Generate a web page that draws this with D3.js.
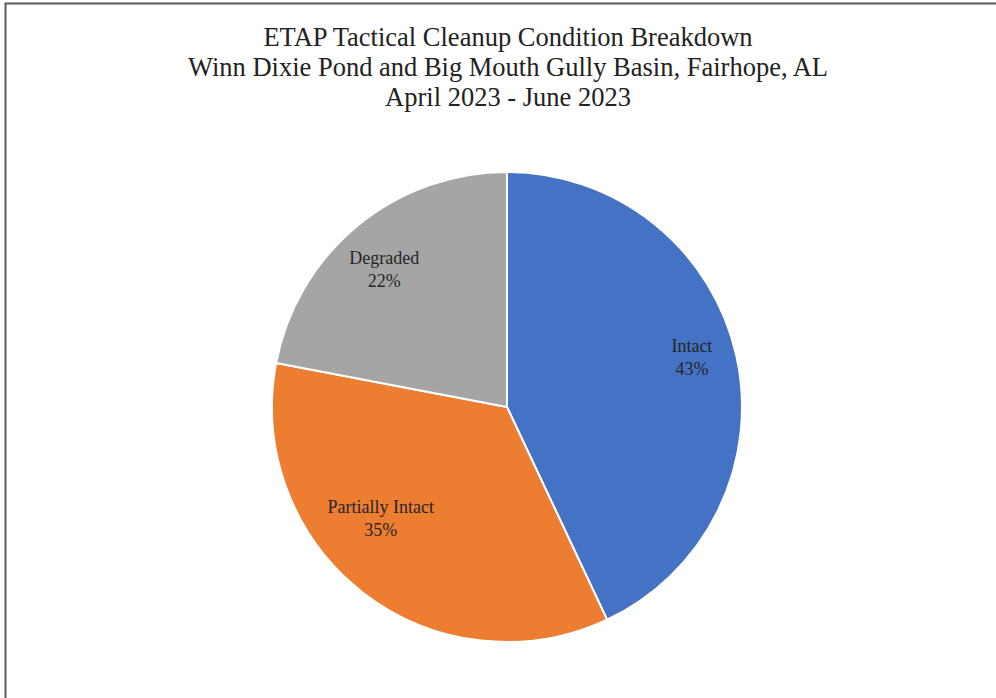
<!DOCTYPE html>
<html>
<head>
<meta charset="utf-8">
<script src="https://cdn.jsdelivr.net/npm/d3@7"></script>
<style>
  html, body { margin: 0; padding: 0; background: #fff; }
  svg { display: block; }
</style>
</head>
<body>
<svg id="chart" width="996" height="698"></svg>
<script>
const titleLines = [
  "ETAP Tactical Cleanup Condition Breakdown",
  "Winn Dixie Pond and Big Mouth Gully Basin, Fairhope, AL",
  "April 2023 - June 2023"
];
const categories = ["Intact", "Partially Intact", "Degraded"];
const values = [43, 35, 22];
const colors = ["#4472C4", "#ED7D31", "#A5A5A5"];

const W = 996, H = 698;
const svg = d3.select("#chart");
const font = "'Liberation Serif', 'Times New Roman', serif";

// chart border (frame partly cut off at right/bottom)
svg.append("rect")
  .attr("x", 5.5).attr("y", 3.5)
  .attr("width", W + 20).attr("height", H + 20)
  .attr("fill", "none").attr("stroke", "#5a5a5a").attr("stroke-width", 2);

// title
const title = svg.append("text")
  .attr("text-anchor", "middle")
  .attr("font-family", font)
  .attr("font-size", 26.5)
  .attr("fill", "#222");
titleLines.forEach((t, i) => {
  title.append("tspan").attr("x", 508).attr("y", 46 + i * 30).text(t);
});

const cx = 507, cy = 407, R = 235;
const data = categories.map((c, i) => ({ cat: c, value: values[i], color: colors[i] }));
const pie = d3.pie().value(d => d.value).sort(null);
const arcs = pie(data);
const arc = d3.arc().innerRadius(0).outerRadius(R);
const labelArc = d3.arc().innerRadius(R * 0.78).outerRadius(R * 0.78);

const g = svg.append("g").attr("transform", `translate(${cx},${cy})`);
g.selectAll("path.slice").data(arcs).join("path")
  .attr("class", "slice")
  .attr("d", arc)
  .attr("fill", d => d.data.color)
  .attr("stroke", "#fff")
  .attr("stroke-width", 2)
  .attr("stroke-linejoin", "round");

// small nudges to imitate the spreadsheet's "best fit" label placement
const nudge = { "Intact": [6, -10], "Partially Intact": [-14, -34], "Degraded": [-6, 3] };
const lbl = g.selectAll("text.lbl").data(arcs).join("text")
  .attr("class", "lbl")
  .attr("text-anchor", "middle")
  .attr("font-family", font)
  .attr("font-size", 18)
  .attr("fill", "#262626")
  .attr("transform", d => {
    const [x, y] = labelArc.centroid(d);
    const n = nudge[d.data.cat];
    return `translate(${x + n[0]},${y + n[1]})`;
  });
lbl.append("tspan").attr("x", 0).attr("y", -5).text(d => d.data.cat);
lbl.append("tspan").attr("x", 0).attr("y", 18).text(d => d.data.value + "%");
</script>
</body>
</html>
